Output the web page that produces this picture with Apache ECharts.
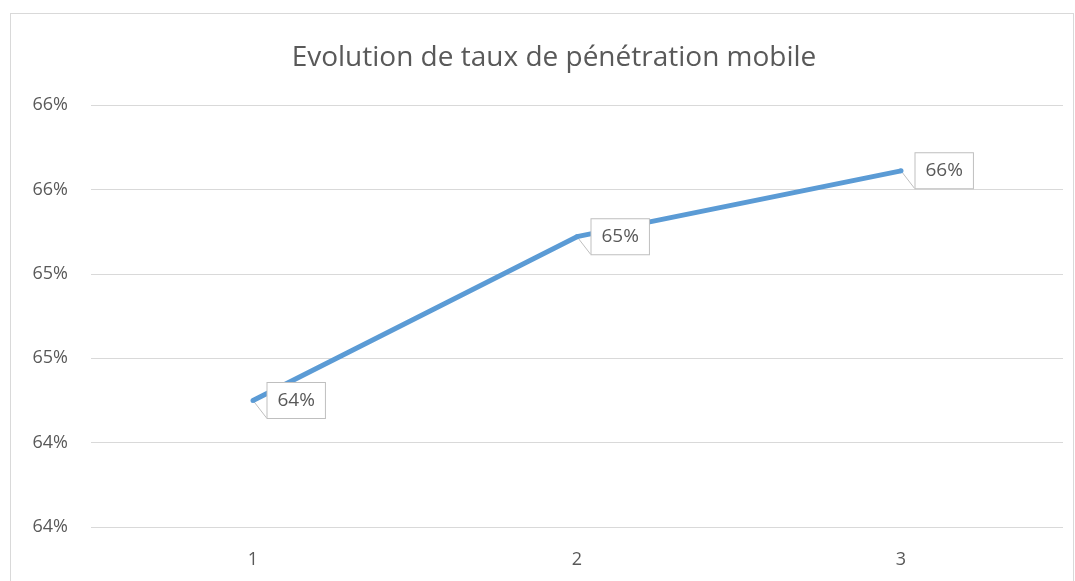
<!DOCTYPE html>
<html>
<head>
<meta charset="utf-8">
<script src="https://cdn.jsdelivr.net/npm/echarts@6/dist/echarts.min.js"></script>
<style>
  html, body { margin: 0; padding: 0; background: #fff; }
  #frame { position: absolute; left: 10px; top: 13px; width: 1062px; height: 600px; border: 1px solid #d9d9d9; }
  #chart { position: absolute; left: 0; top: 0; width: 1075px; height: 581px; }
</style>
</head>
<body>
<div id="frame"></div>
<div id="chart"></div>
<script>
// chart data
const categories = ['1', '2', '3']
const penetration = [64.25, 65.22, 65.61]
const titleText = 'Evolution de taux de pénétration mobile'

const chart = echarts.init(document.getElementById('chart'))
const font = '"Open Sans", "Liberation Sans", sans-serif'

chart.setOption({
  animation: false,
  title: {
    text: titleText,
    left: 549,
    textAlign: 'center',
    top: 39,
    textStyle: { fontFamily: font, fontSize: 28, fontWeight: 'normal', color: '#595959' }
  },
  grid: { left: 91, right: 12, top: 105, bottom: 54 },
  xAxis: {
    type: 'category',
    data: categories,
    boundaryGap: true,
    axisLine: { show: false },
    axisTick: { show: false },
    axisLabel: { fontFamily: font, fontSize: 18, color: '#595959', margin: 24 }
  },
  yAxis: {
    type: 'value',
    min: 63.5,
    max: 66,
    interval: 0.5,
    axisLine: { show: false },
    axisTick: { show: false },
    splitLine: { lineStyle: { color: '#d9d9d9', width: 1 } },
    axisLabel: {
      fontFamily: font, fontSize: 18, color: '#595959', margin: 23,
      formatter: v => Math.round(v + 1e-9) + '%'
    }
  },
  series: [{
    type: 'line',
    data: penetration,
    symbol: 'circle',
    symbolSize: 5,
    lineStyle: { color: '#5b9bd5', width: 5 },
    itemStyle: { color: '#5b9bd5' },
    label: {
      show: true,
      position: 'right',
      distance: 12,
      formatter: p => Math.round(p.value) + '%',
      fontFamily: font,
      fontSize: 19,
      color: '#595959',
      backgroundColor: '#fff',
      borderColor: '#bfbfbf',
      borderWidth: 1,
      padding: [9, 10, 7, 10]
    },
    labelLine: { show: true, lineStyle: { color: '#bfbfbf', width: 1 } }
  }]
})
</script>
</body>
</html>
